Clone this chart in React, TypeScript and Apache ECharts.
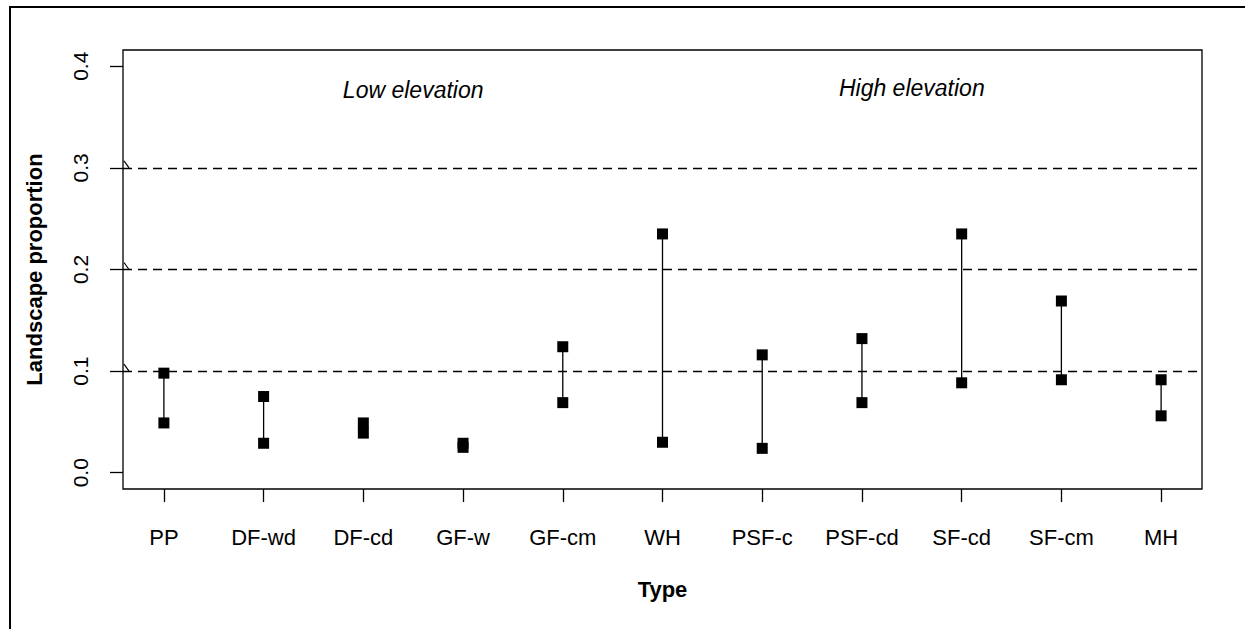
import React, { useEffect, useRef } from "react";
import * as echarts from "echarts";

const categories = ["PP", "DF-wd", "DF-cd", "GF-w", "GF-cm", "WH", "PSF-c", "PSF-cd", "SF-cd", "SF-cm", "MH"];
const highValues = [0.098, 0.075, 0.049, 0.029, 0.124, 0.235, 0.116, 0.132, 0.235, 0.169, 0.0915];
const lowValues = [0.049, 0.029, 0.039, 0.025, 0.069, 0.03, 0.024, 0.069, 0.0885, 0.0915, 0.056];
const yTicks = [0, 0.1, 0.2, 0.3, 0.4];
const refLines = [0.1, 0.2, 0.3];
const noteTexts = ["Low elevation", "High elevation"];
const noteX = [3.5, 8.5];
const noteY = [0.377, 0.379];

const FONT = "'Liberation Sans', Arial, sans-serif";

export default function App() {
  const ref = useRef<HTMLDivElement>(null);
  useEffect(() => {
    document.body.style.margin = "0";
    const chart = echarts.init(ref.current!, null, { renderer: "svg" });
    const xIdx = categories.map((_, i) => i + 1);
    const points: number[][] = [];
    categories.forEach((_, i) => {
      points.push([i + 1, highValues[i]]);
      points.push([i + 1, lowValues[i]]);
    });
    const segs = categories.map((_, i) => [i + 1, lowValues[i], highValues[i]]);
    const xMin = 0.59;
    const xMax = 11.41;
    chart.setOption({
      animation: false,
      backgroundColor: "#fff",
      textStyle: { fontFamily: FONT },
      grid: {
        left: 123,
        right: 43,
        top: 50,
        bottom: 140,
        show: true,
        borderColor: "#000",
        borderWidth: 1.3,
        backgroundColor: "transparent",
      },
      graphic: [
        {
          type: "rect",
          shape: { x: 10, y: 7, width: 1400, height: 800 },
          style: { fill: "none", stroke: "#000", lineWidth: 2 },
          silent: true,
        },
      ],
      xAxis: {
        type: "value",
        min: xMin,
        max: xMax,
        name: "Type",
        nameLocation: "middle",
        nameGap: 89,
        nameTextStyle: { fontSize: 22, fontWeight: "bold", color: "#000", fontFamily: FONT },
        axisLine: { show: false, onZero: false },
        splitLine: { show: false },
        axisTick: { show: true, length: 13, customValues: xIdx, lineStyle: { color: "#000", width: 1.3 } },
        axisLabel: {
          customValues: xIdx,
          margin: 37,
          fontSize: 22,
          color: "#000",
          fontFamily: FONT,
          formatter: (v: number) => categories[Math.round(v) - 1] ?? "",
        },
      },
      yAxis: {
        type: "value",
        min: -0.016,
        max: 0.416,
        name: "Landscape proportion",
        nameLocation: "middle",
        nameGap: 78,
        nameTextStyle: { fontSize: 22, fontWeight: "bold", color: "#000", fontFamily: FONT },
        axisLine: { show: false, onZero: false },
        splitLine: { show: false },
        axisTick: { show: true, length: 13, customValues: yTicks, lineStyle: { color: "#000", width: 1.3 } },
        axisLabel: {
          customValues: yTicks,
          rotate: 90,
          margin: 32,
          fontSize: 21,
          color: "#000",
          fontFamily: FONT,
          formatter: (v: number) => v.toFixed(1),
        },
      },
      series: [
        {
          type: "custom",
          silent: true,
          data: refLines.map((v) => [xMin, v]),
          renderItem: (params: any, api: any) => {
            const p = api.coord([api.value(0), api.value(1)]);
            return {
              type: "line",
              shape: { x1: p[0] + 1, y1: p[1] - 7, x2: p[0] + 6, y2: p[1] },
              style: { stroke: "#000", lineWidth: 1.2 },
            };
          },
          z: 3,
        },
        {
          type: "custom",
          silent: true,
          data: segs,
          renderItem: (params: any, api: any) => {
            const a = api.coord([api.value(0), api.value(1)]);
            const b = api.coord([api.value(0), api.value(2)]);
            return {
              type: "line",
              shape: { x1: a[0], y1: a[1], x2: b[0], y2: b[1] },
              style: { stroke: "#000", lineWidth: 1.3 },
            };
          },
          z: 4,
        },
        {
          type: "scatter",
          data: points,
          symbol: "rect",
          symbolSize: 11,
          itemStyle: { color: "#000", opacity: 1 },
          silent: true,
          z: 5,
          markLine: {
            silent: true,
            symbol: ["none", "none"],
            label: { show: false },
            lineStyle: { color: "#000", type: [9, 6], width: 1.3, opacity: 1 },
            data: refLines.map((v) => ({ yAxis: v })),
          },
        },
        {
          type: "custom",
          silent: true,
          data: noteTexts.map((t, i) => [noteX[i], noteY[i], t]),
          renderItem: (params: any, api: any) => {
            const p = api.coord([api.value(0), api.value(1)]);
            return {
              type: "text",
              x: p[0],
              y: p[1],
              style: {
                text: noteTexts[params.dataIndex],
                fontSize: 23,
                fontStyle: "italic",
                fontFamily: FONT,
                fill: "#000",
                align: "center",
                verticalAlign: "middle",
              },
            };
          },
        },
      ],
    });
    return () => chart.dispose();
  }, []);
  return <div ref={ref} style={{ width: 1245, height: 629 }} />;
}
